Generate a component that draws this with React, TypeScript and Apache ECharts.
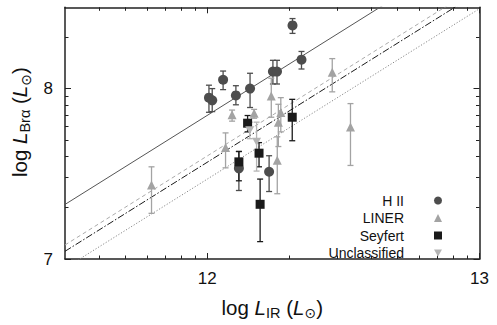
import React, { useEffect, useRef } from "react";
import * as echarts from "echarts";

// log10 values
const HII_X = [12.006, 12.018, 12.058, 12.105, 12.157, 12.241, 12.256, 12.313, 12.346, 12.116, 12.227];
const HII_Y = [7.947, 7.931, 8.052, 7.96, 8.0, 8.1, 8.1, 8.371, 8.17, 7.532, 7.512];
const HII_LO = [7.861, 7.865, 7.994, 7.905, 7.889, 8.027, 8.027, 8.324, 8.115, 7.402, 7.396];
const HII_HI = [8.02, 8.0, 8.103, 8.017, 8.09, 8.166, 8.166, 8.411, 8.218, 7.631, 7.606];

const LINER_X = [11.795, 12.067, 12.091, 12.172, 12.235, 12.27, 12.261, 12.257, 12.459, 12.526];
const LINER_Y = [7.434, 7.654, 7.847, 7.855, 7.956, 7.86, 7.803, 7.579, 8.096, 7.775];
const LINER_LO = [7.268, 7.535, 7.809, 7.826, 7.832, 7.746, 7.66, 7.383, 7.981, 7.549];
const LINER_HI = [7.541, 7.74, 7.874, 7.878, 8.061, 7.947, 7.908, 7.717, 8.176, 7.912];

const SEY_X = [12.116, 12.148, 12.19, 12.194, 12.312];
const SEY_Y = [7.57, 7.797, 7.621, 7.321, 7.832];
const SEY_LO = [7.459, 7.746, 7.541, 7.102, 7.694];
const SEY_HI = [7.631, 7.842, 7.683, 7.469, 7.937];

const UNC_X = [12.156, 12.181];
const UNC_Y = [7.756, 7.688];
const UNC_LO = [7.706, 7.516];
const UNC_HI = [7.803, 7.803];

// relations log L_Bra = log L_IR + c
const LINE_NAMES = ["fit HII", "fit LINER", "fit all", "fit Seyfert"];
const LINE_OFFSETS = [-4.157, -4.395, -4.432, -4.531];
const LINE_COLORS = ["#555555", "#aaaaaa", "#1a1a1a", "#888888"];
const LINE_TYPES: any[] = ["solid", [4, 3], [7, 2, 1.5, 2], [1.2, 1.8]];

const X_MIN = Math.log10(3e11);
const X_MAX = 13;
const Y_MIN = 7;
const Y_MAX = Math.log10(3e8);

const X_MAJOR = [12, 13];
const X_MINOR = [4, 5, 6, 7, 8, 9].map((m) => 11 + Math.log10(m)).concat([2, 3, 4, 5, 6, 7, 8, 9].map((m) => 12 + Math.log10(m)));
const Y_MAJOR = [7, 8];
const Y_MINOR = [2, 3, 4, 5, 6, 7, 8, 9].map((m) => 7 + Math.log10(m)).concat([8 + Math.log10(2)]);

const FONT = "Liberation Sans, Arial, Helvetica, sans-serif";
const DOWN_TRIANGLE = "path://M0,0L20,0L10,17.3Z";

function zip(a: number[], b: number[]) {
  return a.map((v, i) => [v, b[i]]);
}
function zip3(a: number[], b: number[], c: number[]) {
  return a.map((v, i) => [v, b[i], c[i]]);
}

function errSeries(name: string, data: number[][], color: string) {
  return {
    type: "custom",
    name: name + " err",
    xAxisIndex: 0,
    yAxisIndex: 0,
    silent: true,
    z: 3,
    renderItem: (params: any, api: any) => {
      const x = api.value(0);
      const p1 = api.coord([x, api.value(1)]);
      const p2 = api.coord([x, api.value(2)]);
      const cap = 3;
      const st = { stroke: color, lineWidth: 1.3 };
      return {
        type: "group",
        children: [
          { type: "line", shape: { x1: p1[0], y1: p1[1], x2: p2[0], y2: p2[1] }, style: st },
          { type: "line", shape: { x1: p1[0] - cap, y1: p1[1], x2: p1[0] + cap, y2: p1[1] }, style: st },
          { type: "line", shape: { x1: p2[0] - cap, y1: p2[1], x2: p2[0] + cap, y2: p2[1] }, style: st },
        ],
      };
    },
    data,
  };
}

function axisSet(kind: "x" | "y", pos: string, major: number[], minor: number[], min: number, max: number, withLabels: boolean, name?: any) {
  const base: any = {
    type: "value",
    min,
    max,
    position: pos,
    splitLine: { show: false },
    axisLine: { show: false },
  };
  const minorAx = {
    ...base,
    axisTick: { show: true, inside: true, length: 3.5, customValues: minor, lineStyle: { color: "#222", width: 1 } },
    axisLabel: { show: false },
  };
  const majorAx: any = {
    ...base,
    axisLine: { show: true, onZero: false, lineStyle: { color: "#222", width: 1.5 } },
    axisTick: { show: true, inside: true, length: 6, customValues: major, lineStyle: { color: "#222", width: 1 } },
    axisLabel: withLabels
      ? { show: true, customValues: major, formatter: (v: number) => String(Math.round(v)), color: "#111", fontSize: 17, fontFamily: FONT, margin: kind === "x" ? 11 : 12 }
      : { show: false },
  };
  if (name) Object.assign(majorAx, name);
  return [majorAx, minorAx];
}

const rich = {
  n: { fontSize: 20.5, fontFamily: FONT, color: "#111", lineHeight: 26, verticalAlign: "middle" },
  i: { fontSize: 20.5, fontFamily: FONT, fontStyle: "italic", color: "#111", lineHeight: 26, verticalAlign: "middle" },
  s: { fontSize: 14.5, fontFamily: FONT, color: "#111", lineHeight: 26, verticalAlign: "bottom" },
  o: { fontSize: 14, fontFamily: "DejaVu Sans, sans-serif", color: "#111", lineHeight: 24, verticalAlign: "bottom" },
};

export default function App() {
  const ref = useRef<HTMLDivElement>(null);
  useEffect(() => {
    if (!ref.current) return;
    const chart = echarts.init(ref.current, undefined, { renderer: "svg" });
    const xAxes = [
      ...axisSet("x", "bottom", X_MAJOR, X_MINOR, X_MIN, X_MAX, true, {
        name: "{n|log }{i|L}{s|IR}{n| (}{i|L}{o|⊙}{n|)}",
        nameLocation: "middle",
        nameGap: 35,
        nameTextStyle: { rich },
      }),
      ...axisSet("x", "top", X_MAJOR, X_MINOR, X_MIN, X_MAX, false),
    ];
    const yAxes = [
      ...axisSet("y", "left", Y_MAJOR, Y_MINOR, Y_MIN, Y_MAX, true, {
        name: "{n|log }{i|L}{s|Brα}{n| (}{i|L}{o|⊙}{n|)}",
        nameLocation: "middle",
        nameGap: 24,
        nameRotate: 90,
        nameTextStyle: { rich, padding: [0, 0, 0, 22] },
      }),
      ...axisSet("y", "right", Y_MAJOR, Y_MINOR, Y_MIN, Y_MAX, false),
    ];
    const lineSeries = LINE_OFFSETS.map((c, i) => ({
      type: "line",
      name: LINE_NAMES[i],
      xAxisIndex: 0,
      yAxisIndex: 0,
      data: [
        [X_MIN, X_MIN + c],
        [X_MAX, X_MAX + c],
      ],
      showSymbol: false,
      symbol: "none",
      silent: true,
      clip: true,
      z: 2,
      lineStyle: { color: LINE_COLORS[i], width: 1, type: LINE_TYPES[i] },
    }));
    const scatter = (name: string, xs: number[], ys: number[], symbol: string, size: number, color: string) => ({
      type: "scatter",
      name,
      xAxisIndex: 0,
      yAxisIndex: 0,
      data: zip(xs, ys),
      symbol,
      symbolSize: size,
      symbolKeepAspect: true,
      itemStyle: { color, opacity: 1 },
      z: 5,
    });
    chart.setOption({
      animation: false,
      backgroundColor: "#ffffff",
      grid: { left: 65, right: 17.5, top: 7.3, bottom: 60, containLabel: false },
      xAxis: xAxes,
      yAxis: yAxes,
      legend: {
        orient: "vertical",
        align: "right",
        right: 55,
        bottom: 64,
        padding: 0,
        itemWidth: 8,
        itemHeight: 8,
        itemGap: 1.5,
        data: ["H II", "LINER", "Seyfert", { name: "Unclassified", icon: DOWN_TRIANGLE }],
        textStyle: { fontSize: 14, fontFamily: FONT, color: "#111", lineHeight: 16, padding: [0, 25, 0, 0] },
      },
      series: [
        ...lineSeries,
        errSeries("H II", zip3(HII_X, HII_LO, HII_HI), "#4d4d4d"),
        errSeries("LINER", zip3(LINER_X, LINER_LO, LINER_HI), "#a3a3a3"),
        errSeries("Seyfert", zip3(SEY_X, SEY_LO, SEY_HI), "#1a1a1a"),
        errSeries("Unclassified", zip3(UNC_X, UNC_LO, UNC_HI), "#b5b5b5"),
        scatter("H II", HII_X, HII_Y, "circle", 10, "#4d4d4d"),
        scatter("LINER", LINER_X, LINER_Y, "triangle", 9, "#a3a3a3"),
        scatter("Seyfert", SEY_X, SEY_Y, "rect", 9, "#1a1a1a"),
        scatter("Unclassified", UNC_X, UNC_Y, DOWN_TRIANGLE, 9, "#b5b5b5"),
      ],
    });
    return () => chart.dispose();
  }, []);
  return <div ref={ref} style={{ position: "fixed", left: 0, top: 0, width: 497, height: 325, background: "#fff" }} />;
}
